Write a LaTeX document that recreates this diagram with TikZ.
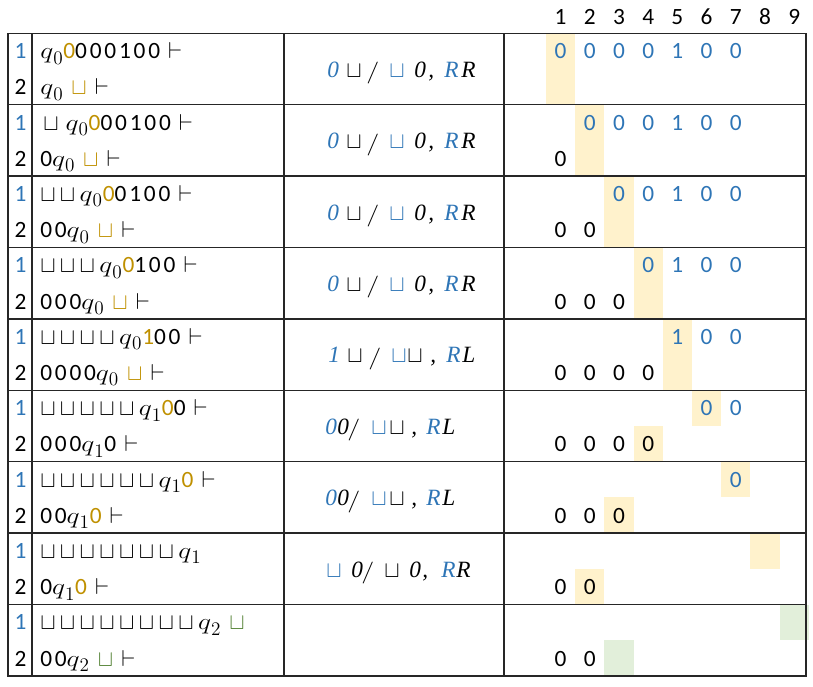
\documentclass[tikz,border=0pt]{standalone}
\usepackage{fontspec}
\usepackage{graphicx}
\setmainfont{Carlito}
\newfontfamily\lsp{Carlito}[LetterSpace=12]
\newfontfamily\serif{Liberation Serif}
\definecolor{tblue}{HTML}{2E75B6}
\definecolor{gold}{HTML}{BF9000}
\definecolor{tgreen}{HTML}{548235}
\definecolor{hlyellow}{HTML}{FFF2CC}
\definecolor{hlgreen}{HTML}{E2EFDA}
\newcommand\si{\serif\itshape}
\newcommand\SQ{$\sqcup$}
\newcommand\SL{\raisebox{-1pt}{\scalebox{1.15}[0.95]{$\mathchar"013D$}}}
\newcommand\B{\makebox[14.8pt][l]{\SQ}}
\newcommand\Q[1]{{\fontsize{19}{20}\selectfont$\mathord{\scalebox{1.2}[1]{$q$}}_{#1}$}}
\newcommand\VD{$\vdash$}
\newcommand\G[1]{\textcolor{gold}{#1}}
\newcommand\MT[3]{\node[anchor=base west] at (#1,#2) {#3};}
\newcommand\MA[1]{%
 \MT{327}{#1}{\textcolor{tblue}{\si 0}}\MT{346}{#1}{\SQ}\MT{366}{#1}{\SL}%
 \MT{389}{#1}{\textcolor{tblue}{\SQ}}\MT{414}{#1}{\si 0}\MT{428}{#1}{\si ,}%
 \MT{444}{#1}{\textcolor{tblue}{\si R}}\MT{461}{#1}{\si R}}
\newcommand\MC[1]{%
 \MT{325}{#1}{\textcolor{tblue}{\si 0}}\MT{337}{#1}{\si 0}\MT{347}{#1}{\SL}%
 \MT{371}{#1}{\textcolor{tblue}{\SQ}}\MT{389}{#1}{\SQ}\MT{411}{#1}{\si ,}%
 \MT{426}{#1}{\textcolor{tblue}{\si R}}\MT{442}{#1}{\si L}}
\begin{document}
\begin{tikzpicture}[x=0.75pt,y=-0.75pt,
  every node/.style={inner sep=0pt, font=\fontsize{17.5}{20}\selectfont},
  grid/.style={draw=black!85, line width=1.1pt},
  hl/.style={fill=hlyellow},
  hg/.style={fill=hlgreen},
  lt/.style={anchor=base west, font=\fontsize{17.5}{20}\selectfont\lsp}]
\useasboundingbox (0,0) rectangle (813,686);
% highlights
\foreach \r/\k/\p/\s in {1/1/0/hl, 2/2/0/hl, 3/3/0/hl, 4/4/0/hl, 5/5/0/hl,
  6/6/1/hl, 6/4/2/hl, 7/7/1/hl, 7/3/2/hl, 8/8/1/hl, 8/2/2/hl, 9/9/1/hg, 9/3/2/hg} {
  \pgfmathsetmacro\T{33.3+71.4*(\r-1)}
  \pgfmathsetmacro\ya{\p==2 ? \T+35.7 : \T}
  \pgfmathsetmacro\yb{\p==1 ? \T+35.7 : \T+71.4}
  \pgfmathsetmacro\xa{546+29.2*(\k-1)}
  \fill[\s] (\xa,\ya) rectangle ({\xa+29.2},\yb);
}
% grid
\draw[grid] (8,33.3) rectangle (806,676);
\foreach \x in {32,284,504} \draw[grid] (\x,33.3) -- (\x,676);
\foreach \r in {1,...,8} \draw[grid] (8,{33.3+71.4*\r}) -- (806,{33.3+71.4*\r});
% header
\foreach \k in {1,...,9} \node[anchor=base] (h\k) at ({531.4+29.2*\k},24) {\k};
% row labels
\foreach \r in {1,...,9} {
  \pgfmathsetmacro\T{33.3+71.4*(\r-1)}
  \node[anchor=base,text=tblue] (a\r) at (20.5,{\T+25.3}) {1};
  \node[anchor=base] (b\r) at (20.5,{\T+61.5}) {2};
}
% tape digits
\foreach \r/\l/\s/\ds in {1/1/1/{0,0,0,0,1,0,0}, 2/1/2/{0,0,0,1,0,0}, 2/2/1/{0},
  3/1/3/{0,0,1,0,0}, 3/2/1/{0,0}, 4/1/4/{0,1,0,0}, 4/2/1/{0,0,0},
  5/1/5/{1,0,0}, 5/2/1/{0,0,0,0}, 6/1/6/{0,0}, 6/2/1/{0,0,0,0},
  7/1/7/{0}, 7/2/1/{0,0,0}, 8/2/1/{0,0}, 9/2/1/{0,0}} {
  \pgfmathsetmacro\yy{33.3+71.4*(\r-1)+(\l==1 ? 25.3 : 61.5)}
  \foreach \d [count=\i from \s] in \ds {
    \ifnum\l=1 \node[anchor=base,text=tblue] (t\r-\l-\i) at ({531.4+29.2*\i},\yy) {\d};
    \else \node[anchor=base] (t\r-\l-\i) at ({531.4+29.2*\i},\yy) {\d}; \fi
  }
}
% left column texts
\node[lt] (l1a) at (40,58.6) {\Q{0}\G{0}000100 \VD};
\node[lt] (l1b) at (40,94.8) {\Q{0} \G{\SQ} \VD};
\node[lt] (l2a) at (43,130) {\B\hspace{2pt}\Q{0}\G{0}00100 \VD};
\node[lt] (l2b) at (40,166.2) {0\Q{0} \G{\SQ} \VD};
\node[lt] (l3a) at (40,201.4) {\B\B\Q{0}\G{0}0100 \VD};
\node[lt] (l3b) at (40,237.6) {00\Q{0} \G{\SQ} \VD};
\node[lt] (l4a) at (40,272.8) {\B\B\B\Q{0}\G{0}100 \VD};
\node[lt] (l4b) at (40,309) {000\Q{0} \G{\SQ} \VD};
\node[lt] (l5a) at (40,344.2) {\B\B\B\B\Q{0}\G{1}00 \VD};
\node[lt] (l5b) at (40,380.4) {0000\Q{0} \G{\SQ} \VD};
\node[lt] (l6a) at (40,415.6) {\B\B\B\B\B\Q{1}\G{0}0 \VD};
\node[lt] (l6b) at (40,451.8) {000\Q{1}0 \VD};
\node[lt] (l7a) at (40,487) {\B\B\B\B\B\B\Q{1}\G{0} \VD};
\node[lt] (l7b) at (40,523.2) {00\Q{1}\G{0} \VD};
\node[lt] (l8a) at (40,558.4) {\B\B\B\B\B\B\B\Q{1}};
\node[lt] (l8b) at (40,594.6) {0\Q{1}\G{0} \VD};
\node[lt] (l9a) at (40,629.8) {\B\B\B\B\B\B\B\B\Q{2} \textcolor{tgreen}{\SQ}};
\node[lt] (l9b) at (40,666) {00\Q{2} \textcolor{tgreen}{\SQ} \VD};
% middle column
\MA{77.3}\MA{148.7}\MA{220.1}\MA{291.5}
\MT{328}{362.9}{\textcolor{tblue}{\si 1}}\MT{347}{362.9}{\SQ}\MT{368}{362.9}{\SL}
\MT{391}{362.9}{\textcolor{tblue}{\SQ}}\MT{407}{362.9}{\SQ}\MT{430}{362.9}{\si ,}
\MT{446}{362.9}{\textcolor{tblue}{\si R}}\MT{462}{362.9}{\si L}
\MC{434.3}\MC{505.7}
\MT{326}{577.1}{\textcolor{tblue}{\SQ}}\MT{351}{577.1}{\si 0}\MT{361}{577.1}{\SL}
\MT{384}{577.1}{\SQ}\MT{409}{577.1}{\si 0}\MT{422}{577.1}{\si ,}
\MT{441}{577.1}{\textcolor{tblue}{\si R}}\MT{456}{577.1}{\si R}
\end{tikzpicture}
\end{document}
